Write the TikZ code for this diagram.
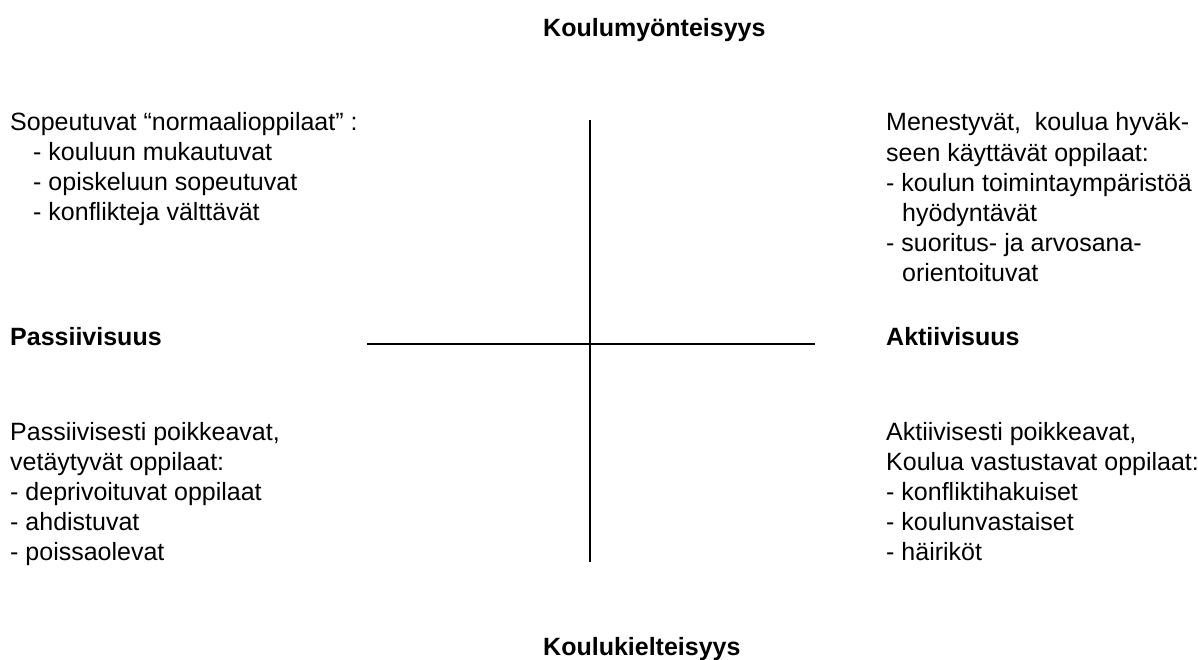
\documentclass[tikz,border=0pt]{standalone}
\usepackage{fontspec}
\setmainfont{Liberation Sans}
\begin{document}
\begin{tikzpicture}[x=1pt,y=-1pt,
  txt/.style={anchor=base west, inner sep=0pt, align=left, font=\fontsize{25}{30}\selectfont},
  axislabel/.style={anchor=base west, inner sep=0pt, font=\fontsize{25}{30}\selectfont\bfseries},
  axisline/.style={line width=2pt, black}]
\useasboundingbox (0,0) rectangle (1198,660);

\node[axislabel] (top) at (543,37) {Koulumyönteisyys};
\node[axislabel] (bottom) at (543,655) {Koulukielteisyys};
\node[axislabel] (left) at (10,345) {Passiivisuus};
\node[axislabel] (right) at (886,345) {Aktiivisuus};

% base anchor = baseline of the last line
\node[txt] (q1) at (10,221) {Sopeutuvat “normaalioppilaat” :\\
\hspace*{23pt}- kouluun mukautuvat\\
\hspace*{23pt}- opiskeluun sopeutuvat\\
\hspace*{23pt}- konflikteja välttävät};

\node[txt] (q2) at (886,281) {Menestyvät,\ \ koulua hyväk-\\
seen käyttävät oppilaat:\\
- koulun toimintaympäristöä\\
\hspace*{16pt}hyödyntävät\\
- suoritus- ja arvosana-\\
\hspace*{16pt}orientoituvat};

\node[txt] (q3) at (10,560) {Passiivisesti poikkeavat,\\
vetäytyvät oppilaat:\\
- deprivoituvat oppilaat\\
- ahdistuvat\\
- poissaolevat};

\node[txt] (q4) at (886,560) {Aktiivisesti poikkeavat,\\
Koulua vastustavat oppilaat:\\
- konfliktihakuiset\\
- koulunvastaiset\\
- häiriköt};

\coordinate (vtop) at (590,120);
\coordinate (vbot) at (590,562);
\coordinate (hleft) at (367,344);
\coordinate (hright) at (815,344);
\draw[axisline] (vtop) -- (vbot);
\draw[axisline] (hleft) -- (hright);
\end{tikzpicture}
\end{document}
